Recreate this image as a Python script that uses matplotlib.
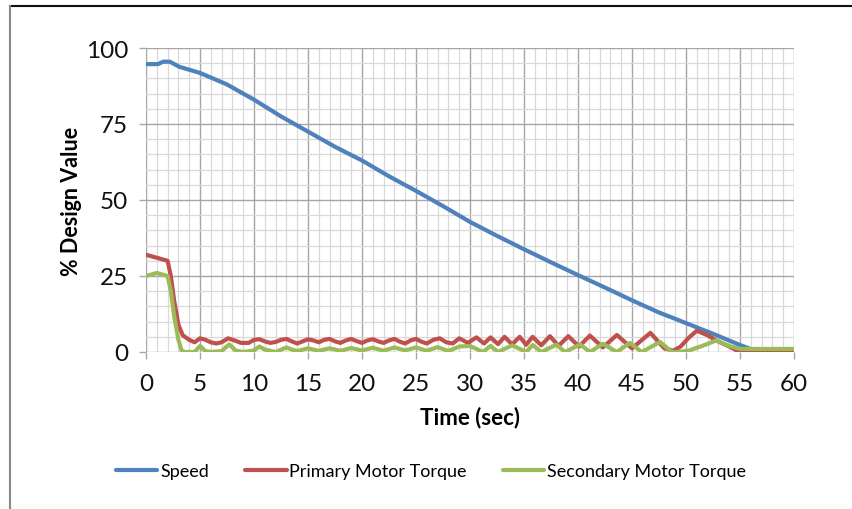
import matplotlib
matplotlib.use("Agg")
import matplotlib.pyplot as plt
from matplotlib.lines import Line2D

plt.rcParams['font.family'] = ['Lato', 'DejaVu Sans']

# ---- data ----
speed_t = [0, 1.1, 1.6, 2.2, 3.1, 5, 7.5, 10, 12.5, 15, 17.5, 20, 22.5, 25, 27.5,
           30, 32.5, 35, 37.5, 40, 42.5, 45, 47.5, 50, 52.5, 55, 56.5, 57, 60]
speed_v = [94.7, 94.7, 95.5, 95.5, 93.8, 91.8, 88, 83, 77.5, 72.5, 67.5, 63, 57.8, 53, 48,
           42.8, 38.2, 33.8, 29.5, 25.3, 21.2, 17, 13, 9.5, 6, 2.3, 0.3, 0, 0]

primary_t = [0, 1, 2, 2.3, 2.6, 3.0, 3.4, 4, 4.5, 5, 5.5, 6, 6.5, 7, 7.6, 8.2, 8.8, 9.5,
             10, 10.5, 11, 11.5, 12, 12.5, 13, 13.5, 14, 14.5, 15, 15.5, 16, 16.5, 17,
             17.5, 18, 18.5, 19, 19.5, 20, 20.5, 21, 21.5, 22, 22.5, 23, 23.5, 24, 24.5,
             25, 25.5, 26, 26.6, 27.2, 27.8, 28.4, 29, 29.8, 30.6, 31.3, 31.9, 32.6, 33.2,
             33.9, 34.6, 35.2, 35.8, 36.6, 37.4, 38.2, 39.1, 40.1, 41.1, 42.3, 43.6, 45.0,
             46.7, 48.0, 48.8, 49.5, 50.2, 51.0, 52.0, 52.8, 54.0, 54.8, 56, 60]
primary_v = [32, 31, 30, 25, 17, 9, 5.5, 4, 3.2, 4.5, 4, 3.2, 2.8, 3.2, 4.5, 3.8, 3, 3,
             4, 4.2, 3.5, 3, 3.3, 4, 4.3, 3.5, 2.8, 3.5, 4.2, 3.8, 3.2, 4, 4.3,
             3.5, 3, 3.8, 4.3, 3.6, 3, 3.8, 4.2, 3.5, 3, 3.8, 4.3, 3.4, 2.8, 3.8,
             4.3, 3.4, 2.8, 4, 4.5, 3.2, 2.8, 4.5, 3, 4.8, 2.8, 4.8, 2.6, 5,
             2.5, 5, 2.4, 5, 2.2, 5.2, 2, 5.2, 1.8, 5.4, 1.5, 5.6, 1.2,
             6.3, 1.2, 0.4, 1.8, 4.5, 7.0, 5.5, 3.8, 1.8, 0.3, 0, 0]

secondary_t = [0, 0.5, 1, 1.5, 2, 2.3, 2.6, 3.0, 3.3, 3.6, 4.5, 5, 5.5, 6, 7, 7.7, 8.3,
               9, 10, 10.5, 11, 12, 13, 13.5, 14, 15, 16, 17, 18, 19, 20, 21, 22, 23,
               24, 25, 26, 27, 28, 29, 30, 31.2, 31.9, 32.6, 33.9, 35.2, 35.8, 36.6,
               38.0, 38.8, 40.2, 41.1, 42.3, 43.6, 44.8, 45.9, 47.6, 48.7, 49.3, 50.3,
               51.5, 52.8, 54.0, 55.0, 56.5, 60]
secondary_v = [25, 25.5, 26, 25.5, 25, 20, 12, 4, 0.5, 0, 0, 2, 0.3, 0, 0.3, 2.5, 0.5,
               0, 0.5, 1.8, 0.8, 0, 1.5, 0.8, 0.3, 1.2, 0.4, 1.2, 0.4, 1.3, 0.5, 1.4, 0.4, 1.5,
               0.5, 1.5, 0.4, 1.6, 0.3, 1.8, 2, 0, 2, 0, 2.2, 0, 2.3, 0,
               2.4, 0, 2.5, 0, 2.7, 0, 3, 0, 3.3, 0, 0, 0.5,
               2, 3.8, 2, 1, 1, 1]

x_ticks = [0, 5, 10, 15, 20, 25, 30, 35, 40, 45, 50, 55, 60]
y_ticks = [0, 25, 50, 75, 100]

# ---- figure ----
fig = plt.figure(figsize=(8.52, 5.10), dpi=100)
ax = fig.add_axes([146 / 852, 1 - 353 / 510, (794 - 146) / 852, (353 - 49) / 510])

blue, red, green = '#4F81BD', '#C0504D', '#9BBB59'
lw = 3.0
ax.plot(speed_t, speed_v, color=blue, lw=lw, label='Speed', zorder=3,
        solid_capstyle='round', solid_joinstyle='round')
ax.plot(primary_t, primary_v, color=red, lw=lw, label='Primary Motor Torque', zorder=4,
        solid_capstyle='round', solid_joinstyle='round')
ax.plot(secondary_t, secondary_v, color=green, lw=lw, label='Secondary Motor Torque', zorder=5,
        solid_capstyle='round', solid_joinstyle='round')

ax.set_xlim(0, 60)
ax.set_ylim(0, 100)
ax.set_xticks(x_ticks)
ax.set_yticks(y_ticks)
ax.set_xticks(range(0, 61), minor=True)
ax.set_yticks(range(0, 101, 5), minor=True)
ax.grid(which='minor', color='#D9D9D9', lw=0.9, zorder=0)
ax.grid(which='major', color='#A6A6A6', lw=1.0, zorder=1)
ax.set_axisbelow(True)
for s in ax.spines.values():
    s.set_visible(False)
ax.tick_params(which='major', length=5, color='#A6A6A6', width=1.0,
               labelsize=17.5, labelcolor='#111111')
ax.tick_params(axis='x', which='major', pad=10)
ax.tick_params(axis='y', which='major', pad=8)
ax.tick_params(which='minor', length=0)

ax.set_xlabel('Time (sec)', fontsize=16, fontweight='bold')
ax.set_ylabel('% Design Value', fontsize=15.5, fontweight='bold')
ax.xaxis.set_label_coords(0.5, (353 - 418) / 304, transform=ax.transAxes)
ax.xaxis.label.set_va('center')
ax.yaxis.set_label_coords((72 - 146) / 648, 0.5, transform=ax.transAxes)
ax.yaxis.label.set_va('center')

fig.legend(loc='center', bbox_to_anchor=(431 / 852, 1 - 472 / 510), ncol=3, frameon=False,
           fontsize=13, handlelength=2.3, handletextpad=0.15, columnspacing=2.0)

# outer frame lines
fig.add_artist(Line2D([10 / 852, 1], [1 - 7 / 510, 1 - 7 / 510], color='#111111', lw=1.5,
                      transform=fig.transFigure))
fig.add_artist(Line2D([10 / 852, 10 / 852], [0, 1 - 7 / 510], color='#888888', lw=1.5,
                      transform=fig.transFigure))

fig.savefig('out.png', dpi=100)
